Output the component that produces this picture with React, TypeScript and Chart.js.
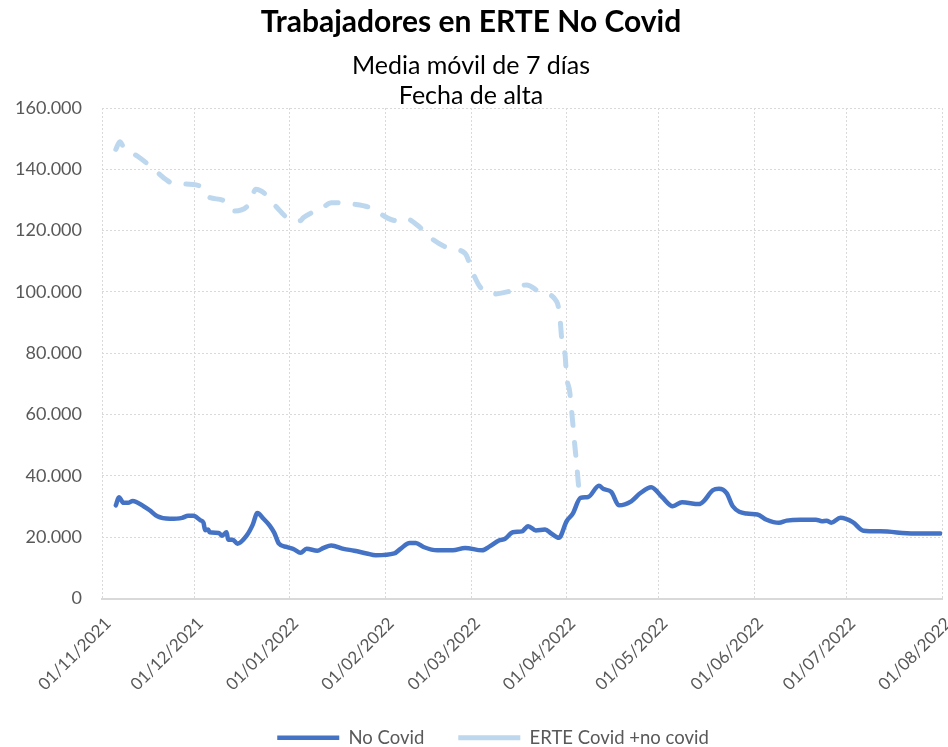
import React, { useEffect, useRef } from 'react';
import { Chart, registerables } from 'chart.js';

Chart.register(...registerables);

// Days counted from 01/11/2021
const monthTickDays = [0, 30, 61, 92, 120, 151, 181, 212, 242, 273];
const monthTickLabels = [
  '01/11/2021', '01/12/2021', '01/01/2022', '01/02/2022', '01/03/2022',
  '01/04/2022', '01/05/2022', '01/06/2022', '01/07/2022', '01/08/2022',
];

const noCovidDays = [
  4.5, 5.5, 7, 8.5, 10, 13.5, 15.5, 18, 22, 26, 28, 29.7, 32, 33, 33.5, 34.5, 35, 38, 39, 40.5,
  41, 42.5, 44, 47, 49, 50.5, 52.5, 54.5, 56, 57.5, 60, 62.5, 64.5, 66.5, 70, 72, 74.5, 78.5, 82, 86,
  89, 95, 97, 100, 102, 104.5, 109, 114, 118, 123.5, 126, 129, 131, 133.5, 136.5, 138.5, 141, 144, 146, 148.5,
  151, 153, 155.5, 158, 161.5, 163, 165.5, 168, 172, 175, 178.5, 182, 185.5, 188.5, 194, 195.5, 198.5, 200.5, 203, 205,
  209.5, 213, 216, 220, 222.5, 227, 232, 234, 235.5, 237, 240, 244, 247.5, 253, 264, 272.5,
];
const noCovidValues = [
  30400, 33000, 31200, 31200, 31800, 30100, 28800, 26800, 26000, 26300, 27000, 27000, 25500, 24700, 22300, 22500, 21600, 21400, 20500, 21600,
  19200, 19200, 17900, 20500, 24100, 27900, 26000, 23800, 21400, 17900, 16800, 16000, 14900, 16200, 15600, 16500, 17300, 16200, 15600, 14700,
  14100, 14700, 16200, 18100, 18100, 16800, 15700, 15700, 16500, 15700, 17000, 18900, 19500, 21600, 21900, 23600, 22200, 22500, 21200, 19800,
  25200, 27700, 32800, 33100, 36800, 35700, 34800, 30400, 31700, 34400, 36300, 33100, 30100, 31400, 30800, 31700, 35300, 35800, 34400, 30100,
  27700, 27400, 25700, 24700, 25400, 25700, 25700, 25200, 25400, 24700, 26300, 24900, 22100, 21900, 21200, 21200,
];

const totalDays = [
  4.5, 5.8, 7.1, 11.8, 16, 21, 23, 26, 32, 33, 34.5, 40.3, 41.6, 43.2, 48, 50, 53.5, 56.8, 61, 64.4,
  65.5, 71.4, 74.6, 82, 87.7, 93, 95.8, 98.5, 103.3, 107, 113, 118, 120.5, 123, 127, 132, 138, 142.3, 147.8, 148.8,
  149.4, 150.5, 151, 152, 152.7, 153.2, 153.8, 154.3, 154.8, 155.3,
];
const totalValues = [
  146500, 149000, 147100, 144100, 140800, 136500, 135400, 135200, 134500, 132700, 131000, 129400, 127300, 126400, 128900, 133500, 131600, 127600, 123700, 123200,
  124300, 127300, 129100, 128600, 127300, 124000, 123200, 124000, 121100, 117500, 114200, 112600, 106300, 101500, 99300, 100100, 102300, 100000, 96800, 92000,
  84900, 79500, 72400, 67500, 60500, 55000, 48500, 43600, 37700, 32800,
];

const yMax = 160000;
const yStep = 20000;

const FONT = 'Lato, "Open Sans", "Noto Sans", sans-serif';

function formatThousands(v: number): string {
  const s = Math.round(v).toString();
  return s.replace(/\B(?=(\d{3})+(?!\d))/g, '.');
}

const legendShift = {
  id: 'legendShift',
  afterLayout(chart: any) {
    const l = chart.legend;
    if (l) {
      l.left += 22;
      l.right += 22;
    }
  },
};

export default function App() {
  const canvasRef = useRef<HTMLCanvasElement | null>(null);

  useEffect(() => {
    document.body.style.margin = '0';
    const canvas = canvasRef.current;
    if (!canvas) return;
    const chart = new Chart(canvas, {
      type: 'line',
      data: {
        datasets: [
          {
            label: 'No Covid',
            data: noCovidDays.map((d, i) => ({ x: d, y: noCovidValues[i] })),
            borderColor: '#4472C4',
            backgroundColor: '#4472C4',
            borderWidth: 4.5,
            borderCapStyle: 'round',
            borderJoinStyle: 'round',
            pointRadius: 0,
            cubicInterpolationMode: 'monotone',
            fill: false,
          },
          {
            label: 'ERTE Covid +no covid',
            data: totalDays.map((d, i) => ({ x: d, y: totalValues[i] })),
            borderColor: '#BDD7EE',
            backgroundColor: '#BDD7EE',
            borderWidth: 5,
            borderDash: [13, 17],
            borderCapStyle: 'round',
            borderJoinStyle: 'round',
            pointRadius: 0,
            cubicInterpolationMode: 'monotone',
            fill: false,
          },
        ],
      },
      plugins: [legendShift],
      options: {
        animation: false,
        responsive: false,
        maintainAspectRatio: false,
        layout: { padding: { left: 0, right: 6, top: 0, bottom: -10 } },
        plugins: {
          title: {
            display: true,
            text: 'Trabajadores en ERTE No Covid',
            color: '#000000',
            font: { family: FONT, size: 30, weight: 'bold', lineHeight: 1.2 },
            padding: { top: 4, bottom: 0 },
          },
          subtitle: {
            display: true,
            text: ['Media móvil de 7 días', 'Fecha de alta'],
            color: '#000000',
            font: { family: FONT, size: 25, lineHeight: 1.2 },
            padding: { top: 11, bottom: -3 },
          },
          legend: {
            position: 'bottom',
            labels: {
              usePointStyle: true,
              pointStyle: 'line',
              pointStyleWidth: 62,
              color: '#595959',
              font: { family: FONT, size: 18.5 },
              padding: 34,
            },
          },
          tooltip: { enabled: false },
        },
        scales: {
          x: {
            type: 'linear',
            min: monthTickDays[0],
            max: monthTickDays[monthTickDays.length - 1],
            afterBuildTicks: (scale: any) => {
              scale.ticks = monthTickDays.map((v) => ({ value: v }));
            },
            afterFit: (scale: any) => {
              scale.height = 96;
              scale.paddingLeft = 0;
              scale.paddingRight = 0;
            },
            ticks: {
              autoSkip: false,
              minRotation: 45,
              maxRotation: 45,
              color: '#595959',
              font: { family: FONT, size: 17 },
              padding: 15,
              labelOffset: 6,
              callback: (value: any) => {
                const idx = monthTickDays.indexOf(Number(value));
                return idx >= 0 ? monthTickLabels[idx] : '';
              },
            },
            grid: { color: '#D9D9D9', lineWidth: 1, drawTicks: false },
            border: { display: true, color: '#D9D9D9', width: 2, dash: [2, 2] },
          },
          y: {
            min: 0,
            max: yMax,
            afterFit: (scale: any) => {
              scale.width = 102;
            },
            ticks: {
              stepSize: yStep,
              color: '#595959',
              font: { family: FONT, size: 18 },
              padding: 20,
              callback: (value: any) => formatThousands(Number(value)),
            },
            grid: { color: '#D9D9D9', lineWidth: 1, drawTicks: false },
            border: { display: false, dash: [2, 2] },
          },
        },
      } as any,
    });
    return () => chart.destroy();
  }, []);

  return (
    <div style={{ width: 948, height: 747 }}>
      <canvas ref={canvasRef} width={948} height={747} style={{ display: 'block', width: 948, height: 747 }} />
    </div>
  );
}
